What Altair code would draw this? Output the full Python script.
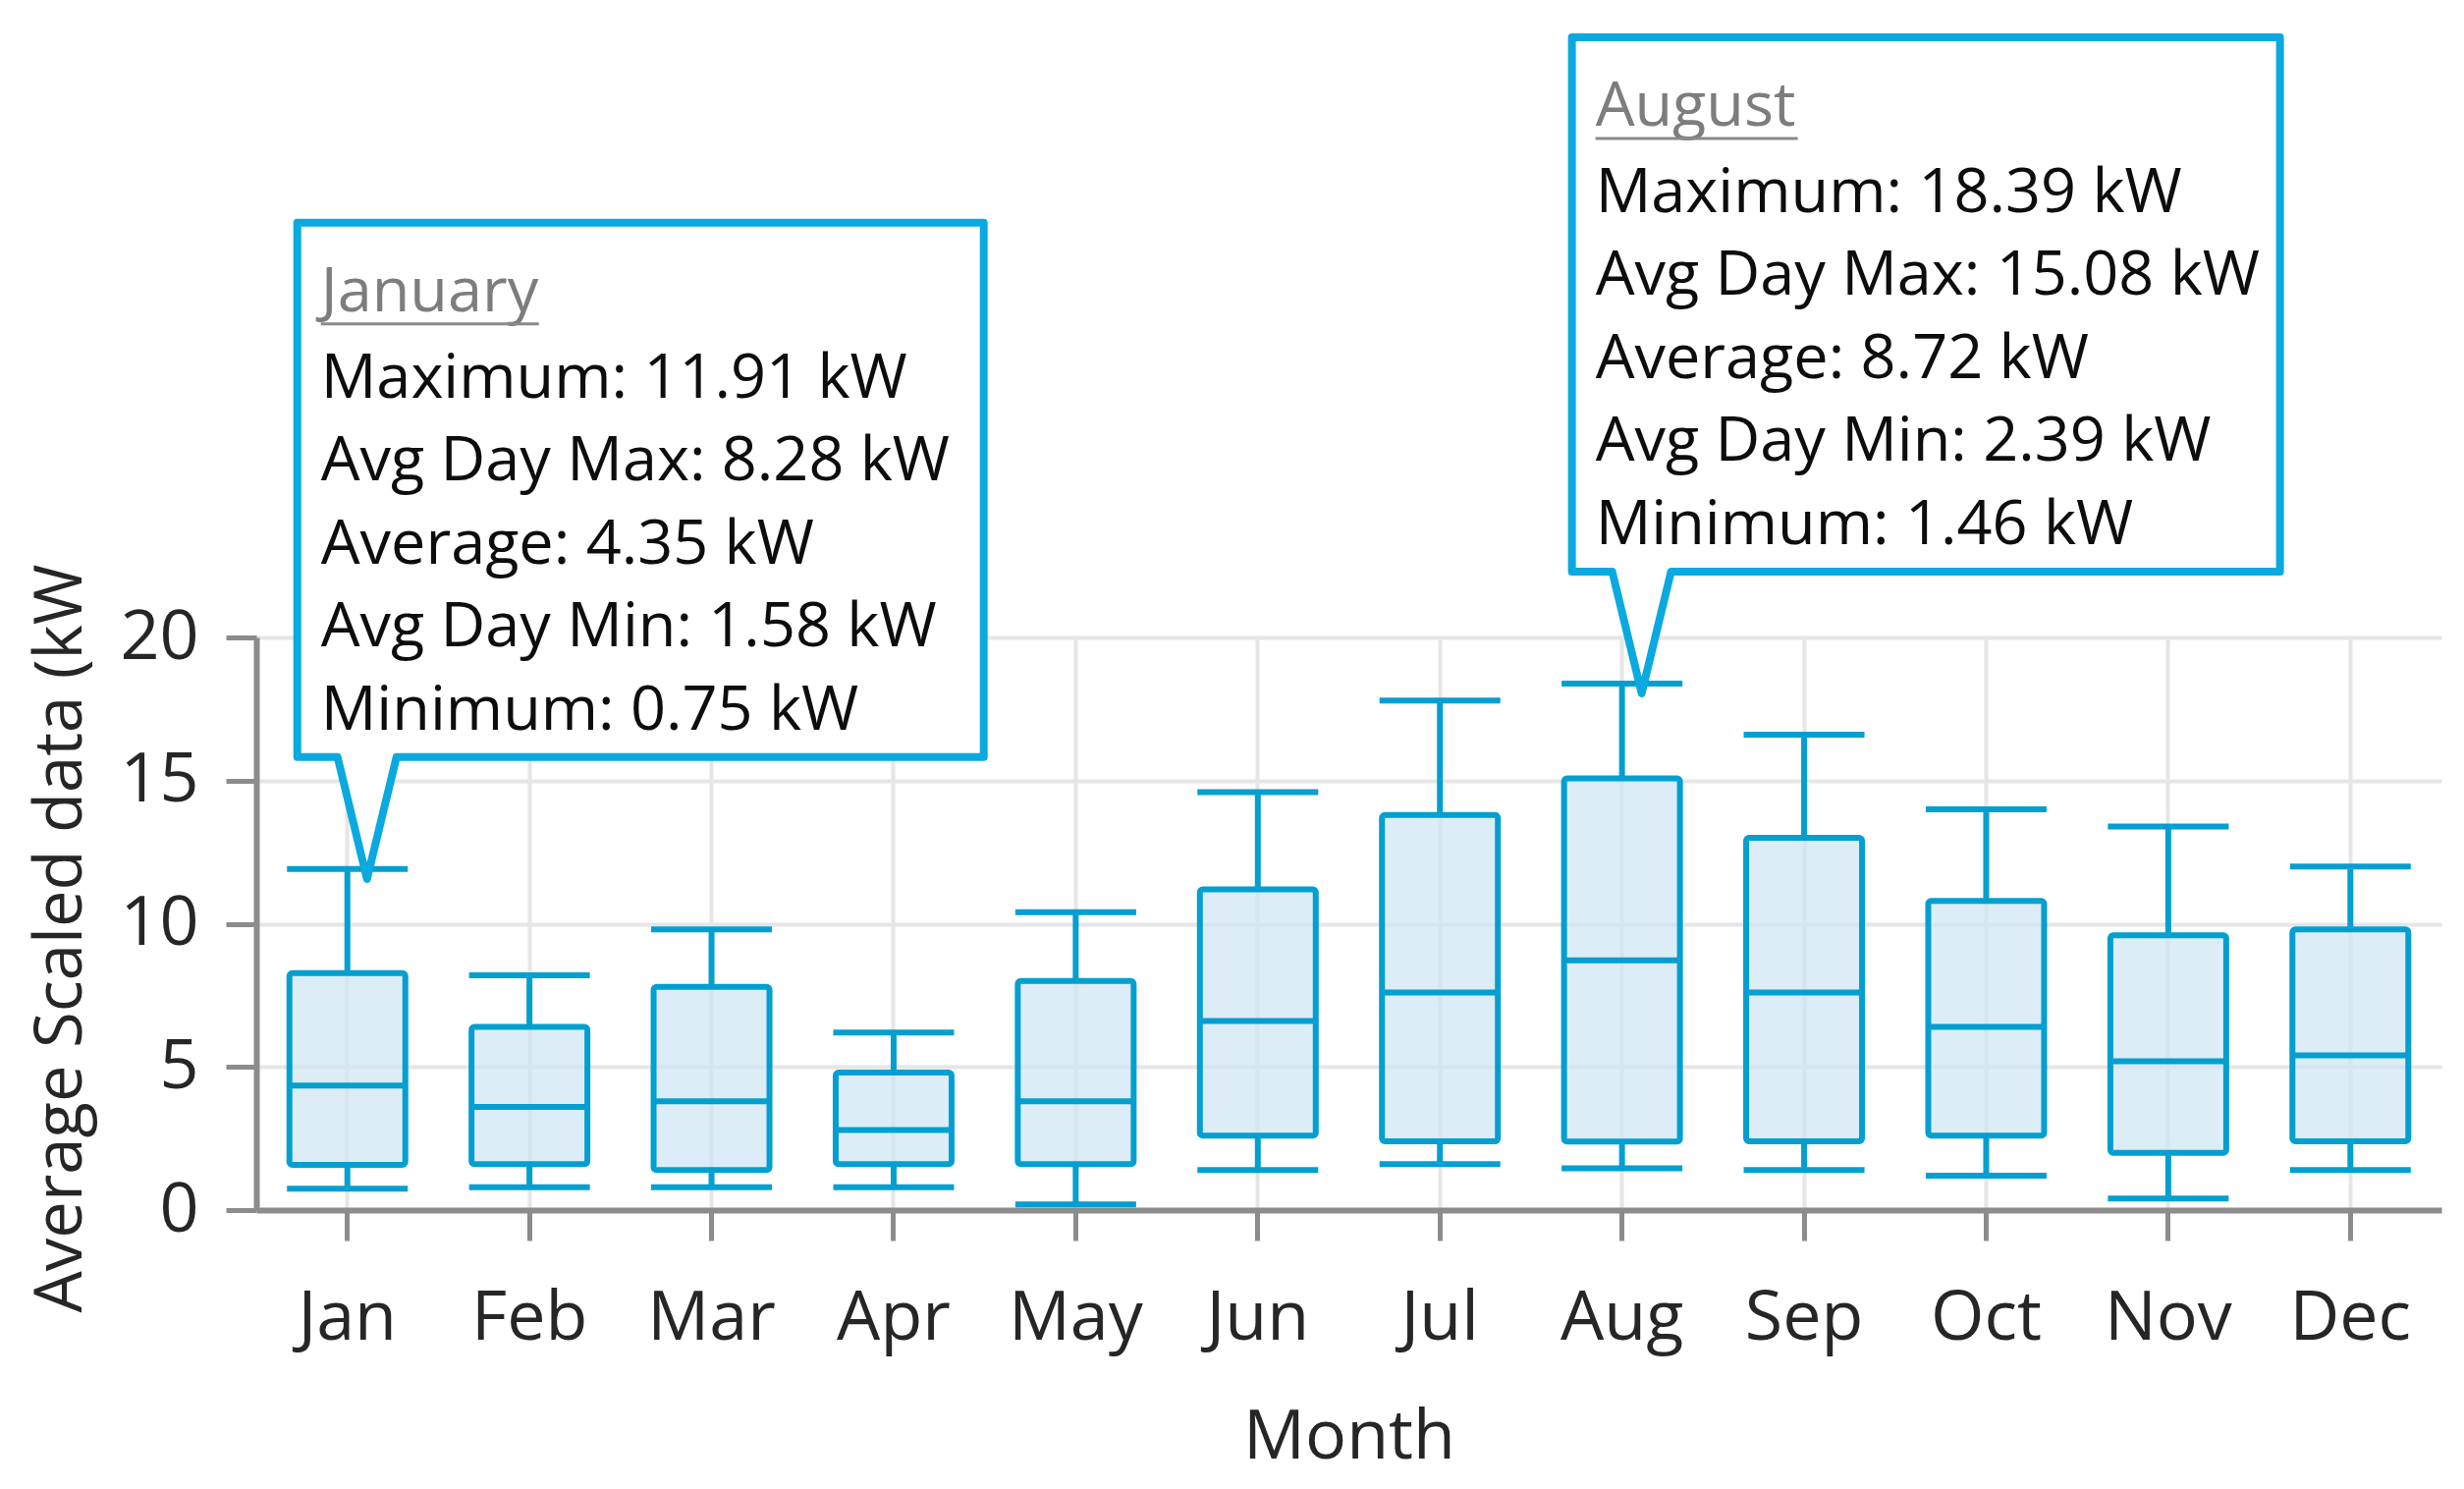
import altair as alt
import pandas as pd

# ---- data ----
months = ["Jan", "Feb", "Mar", "Apr", "May", "Jun", "Jul", "Aug", "Sep", "Oct", "Nov", "Dec"]
maximum = [11.91, 8.2, 9.8, 6.2, 10.4, 14.6, 17.8, 18.39, 16.6, 14.0, 13.4, 12.0]
avg_day_max = [8.28, 6.4, 7.8, 4.8, 8.0, 11.2, 13.8, 15.08, 13.0, 10.8, 9.6, 9.8]
average = [4.35, 3.6, 3.8, 2.8, 3.8, 6.6, 7.6, 8.72, 7.6, 6.4, 5.2, 5.4]
avg_day_min = [1.58, 1.6, 1.4, 1.6, 1.6, 2.6, 2.4, 2.39, 2.4, 2.6, 2.0, 2.4]
minimum = [0.75, 0.8, 0.8, 0.8, 0.2, 1.4, 1.6, 1.46, 1.4, 1.2, 0.4, 1.4]

callout_months = ["Jan", "Aug"]
callout_titles = ["January", "August"]

y_ticks = [0, 5, 10, 15, 20]
x_title = "Month"
y_title = "Average Scaled data (kW"

df = pd.DataFrame({
    "month": months,
    "maximum": maximum,
    "avg_day_max": avg_day_max,
    "average": average,
    "avg_day_min": avg_day_min,
    "minimum": minimum,
})

BOX = "#039fd0"
CALL = "#0aa9e0"
FILL = "#cfe6f3"
FONT = "Open Sans"
TXT = "#262626"
LW = 6

x_enc = alt.X(
    "month:N",
    sort=months,
    scale=alt.Scale(type="band", domain=months, paddingInner=0, paddingOuter=0),
    axis=alt.Axis(grid=True, bandPosition=0.5, labelAngle=0, labelAlign="center",
                  labelBaseline="alphabetic", labelPadding=100,
                  titleY=252, titleBaseline="alphabetic"),
    title=x_title,
)

y_scale = alt.Scale(domain=[0, 20], nice=False, zero=True)
y_axis = alt.Axis(values=y_ticks, grid=True, labelPadding=28, format="d",
                  titleAngle=270, titleX=-179, titleY=306, titleFontSize=67,
                  titleAlign="center", titleBaseline="alphabetic")


def Y(field):
    return alt.Y(f"{field}:Q", scale=y_scale, axis=y_axis, title=y_title)


base = alt.Chart(df)

whisk_lo = base.mark_rule(color=BOX, strokeWidth=LW).encode(
    x=x_enc, y=Y("minimum"), y2="avg_day_min:Q")
whisk_hi = base.mark_rule(color=BOX, strokeWidth=LW).encode(
    x=x_enc, y=Y("avg_day_max"), y2="maximum:Q")
box = base.mark_bar(size=118, fill=FILL, fillOpacity=0.7, stroke=BOX,
                    strokeWidth=LW, cornerRadius=3).encode(
    x=x_enc, y=Y("avg_day_min"), y2="avg_day_max:Q")
median = base.mark_tick(orient="horizontal", size=118, thickness=LW,
                        color=BOX, opacity=1).encode(x=x_enc, y=Y("average"))
cap_hi = base.mark_tick(orient="horizontal", size=123, thickness=LW,
                        color=BOX, opacity=1).encode(x=x_enc, y=Y("maximum"))
cap_lo = base.mark_tick(orient="horizontal", size=123, thickness=LW,
                        color=BOX, opacity=1).encode(x=x_enc, y=Y("minimum"))

layers = [whisk_lo, whisk_hi, box, median, cap_hi, cap_lo]

# callout geometry (pixels, relative to the pointer tip)
box_right = {"Jan": 628, "Aug": 650}
underline_w = {"Jan": 222, "Aug": 206}

for m, ttl in zip(callout_months, callout_titles):
    i = months.index(m)
    body = "\n".join([
        f"Maximum: {maximum[i]:.2f} kW",
        f"Avg Day Max: {avg_day_max[i]:.2f} kW",
        f"Average: {average[i]:.2f} kW",
        f"Avg Day Min: {avg_day_min[i]:.2f} kW",
        f"Minimum: {minimum[i]:.2f} kW",
    ])
    d = pd.DataFrame({"month": [m], "maximum": [maximum[i]],
                      "title": [ttl], "body": [body]})
    cb = alt.Chart(d).encode(x=x_enc, y=Y("maximum"))
    r = box_right[m]
    path = f"M-30,-124L-71,-124L-71,-668L{r},-668L{r},-124L30,-124L0,0Z"
    bubble = cb.mark_point(shape=path, size=4, filled=True, fill="white",
                           stroke=CALL, strokeWidth=8, opacity=1,
                           strokeJoin="round", xOffset=20, yOffset=10)
    title_t = cb.mark_text(align="left", baseline="alphabetic", dx=-27, dy=-568,
                           font=FONT, fontSize=63, color="#7d7d7d").encode(text="title:N")
    uline = cb.mark_point(shape=f"M0,0L{underline_w[m]},0", size=4, filled=False,
                          stroke="#8a8a8a", strokeWidth=3, opacity=1,
                          xOffset=-27, yOffset=-555)
    body_t = cb.mark_text(align="left", baseline="alphabetic", dx=-27, dy=-480,
                          font=FONT, fontSize=63, color="#0d0d0d",
                          lineBreak="\n", lineHeight=84.5).encode(text="body:N")
    layers += [bubble, title_t, uline, body_t]

chart = alt.layer(*layers).properties(
    width=2225,
    height=583,
    autosize=alt.AutoSizeParams(type="none"),
    padding={"left": 253, "top": 641, "right": 15, "bottom": 274},
    background="white",
).configure_axis(
    labelFont=FONT, titleFont=FONT, labelFontSize=70, titleFontSize=70,
    labelColor=TXT, titleColor=TXT, titleFontWeight="normal",
    domainColor="#8c8c8c", domainWidth=6, tickColor="#8c8c8c", tickWidth=5,
    tickSize=31, gridColor="#e6e6e6", gridWidth=4,
).configure_view(strokeWidth=0)

chart.save("out.html", embed_options={"renderer": "svg", "actions": False})
